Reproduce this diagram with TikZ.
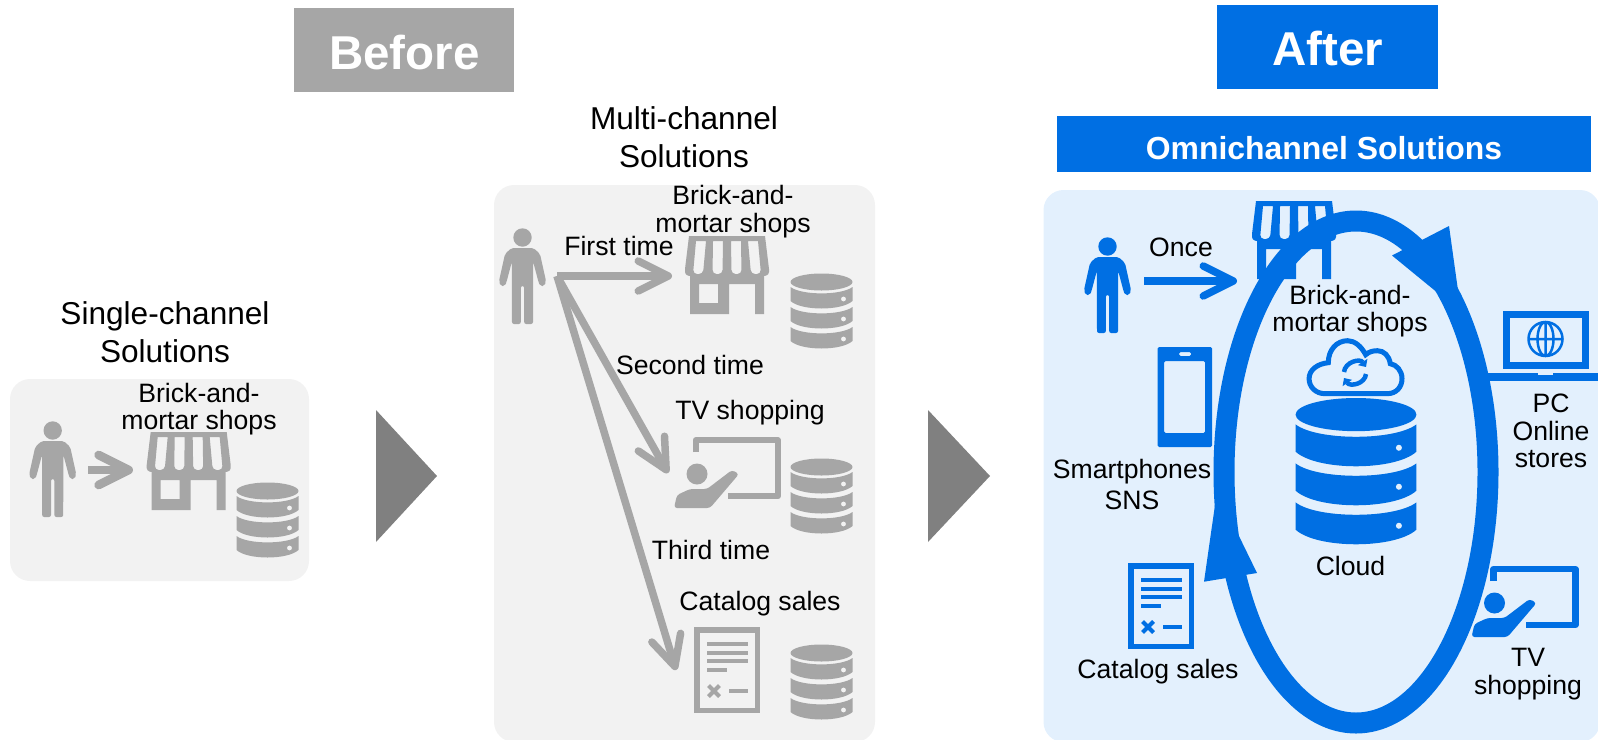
\documentclass[tikz,border=0pt]{standalone}
\usepackage{fontspec}
\setmainfont{Liberation Sans}
\usetikzlibrary{arrows.meta}
\definecolor{icongray}{HTML}{A6A6A6}
\definecolor{panelgray}{HTML}{F2F2F2}
\definecolor{markgray}{HTML}{808080}
\definecolor{iconblue}{HTML}{006FE3}
\definecolor{panelblue}{HTML}{E3F0FD}
\tikzset{
	lbl/.style={align=center, inner sep=0pt, font=\fontsize{26.6}{27.5}\selectfont},
	lblbig/.style={align=center, inner sep=0pt, font=\fontsize{31.6}{38}\selectfont},
	tagbox/.style={inner sep=0pt, text=white, font=\fontsize{47.5}{50}\selectfont\bfseries},
	flowarrow/.style={-{Straight Barb[length=30pt, width=30pt, round]}},
	pics/personicon/.style={code={
		\fill (0, 9.5) circle (9.2);
		\fill[rounded corners=2pt] (-11, 20) -- (11, 20) -- (17.5, 26) -- (23.5, 53) -- (22, 58) -- (17.5, 58) -- (16, 54) -- (10.7, 34)
			-- (10.5, 96) -- (1.7, 96) -- (1.7, 58) -- (-1.7, 58) -- (-1.7, 96) -- (-10.5, 96) -- (-10.7, 34)
			-- (-16, 54) -- (-17.5, 58) -- (-22, 58) -- (-23.5, 53) -- (-17.5, 26) -- cycle;
	}},
	pics/shopicon/.style={code={
		\fill[even odd rule] (-38, 0) -- (38, 0) -- (42, 33) [rounded corners=3pt] -- (42, 39) [sharp corners] -- (37, 40)
			-- (37, 78) -- (28, 78) -- (28, 48) -- (2, 48) -- (2, 78) -- (-37, 78) -- (-37, 40)
			[rounded corners=3pt] -- (-42, 39) [sharp corners] -- (-42, 33) -- cycle
			(-28, 48) rectangle (-9, 67)
			[rounded corners=4pt]
			(-31, 5) [sharp corners] -- (-21, 5) [rounded corners=4pt] -- (-24, 38) -- (-34, 38) [sharp corners] -- cycle
			(-14, 5) -- (-4, 5) [rounded corners=4pt] -- (-4.5, 38) -- (-14.5, 38) [sharp corners] -- cycle
			(4, 5) -- (14, 5) [rounded corners=4pt] -- (14.5, 38) -- (4.5, 38) [sharp corners] -- cycle
			(21, 5) -- (31, 5) [rounded corners=4pt] -- (34, 38) -- (24, 38) [sharp corners] -- cycle;
	}},
	pics/dbstack/.style 2 args={code={
		\fill (0, 8) ellipse [x radius=31, y radius=8.5];
		\foreach \a in {13, 33, 53} {
			\fill (-31, \a) .. controls (-20, \a + 8.5) and (20, \a + 8.5) .. (31, \a)
				-- (31, \a + 14) .. controls (20, \a + 24) and (-20, \a + 24) .. (-31, \a + 14) -- cycle;
			\fill[#1] (22, \a + 12) circle (#2);
		}
	}},
	pics/tvicon/.style={code={
		\draw[line width=6.5pt, line join=round] (22, 15) -- (22, 3.2) -- (103.8, 3.2) -- (103.8, 59) -- (54, 59);
		\fill (23, 37) circle (10.5);
		\fill[rounded corners=3pt] (0, 71) -- (3, 58) -- (16, 52) -- (33, 52) -- (58, 33) -- (65, 37) -- (36, 71) -- cycle;
	}},
	pics/catalogicon/.style={code={
		\draw[line width=5.5pt] (2.75, 2.75) rectangle (63.25, 83.25);
		\foreach \y in {17, 25.5, 34} {
			\fill (13, \y - 2) rectangle (54, \y + 2);
		}
		\fill (13, 41) rectangle (33, 45);
		\draw[line width=4pt] (14.5, 58.5) -- (25.5, 69.5) (14.5, 69.5) -- (25.5, 58.5);
		\fill (35, 62) rectangle (54, 66);
	}}
}
\begin{document}
\begin{tikzpicture}[x=1pt, y=-1pt]
	\useasboundingbox (0, 0) rectangle (1598, 739);
	\fill[panelgray, rounded corners=20pt] (10, 379) rectangle (309, 581);
	\fill[panelgray, rounded corners=20pt] (494, 185) rectangle (875, 742);
	\fill[panelblue, rounded corners=20pt] (1043.5, 190) rectangle (1600, 742);
	\fill[markgray] (376, 410) -- (437, 476) -- (376, 542) -- cycle;
	\fill[markgray] (928, 410) -- (990, 476) -- (928, 542) -- cycle;
	\node[fill=icongray, minimum width=220.5pt, minimum height=84pt] (before) at (404, 50) {};
	\node[tagbox] (beforeLbl) at (404.5, 53) {Before};
	\node[fill=iconblue, minimum width=221pt, minimum height=84pt] (after) at (1327.5, 47) {};
	\node[tagbox] (afterLbl) at (1327.5, 49) {After};
	\node[fill=iconblue, text=white, inner sep=0pt, minimum width=534pt, minimum height=56pt] (omni) at (1324, 144) {};
	\node[text=white, inner sep=0pt, font=\fontsize{31.9}{34}\selectfont\bfseries] (omniLbl) at (1324, 148) {Omnichannel Solutions};

	\node[lblbig] (singleTitle) at (165, 332) {Single-channel\\Solutions};
	\pic[color=icongray] at (52.7, 421) {personicon};
	\pic[color=icongray] at (188.7, 432) {shopicon};
	\pic[color=icongray] at (267.5, 483) {dbstack={panelgray}{2.4}};
	\coordinate (singleFrom) at (88, 470);
	\coordinate (singleTo) at (133, 470);
	\draw[flowarrow, icongray, line width=8.7pt] (singleFrom) -- (singleTo);
	\node[lbl] (singleShop) at (199, 409) {Brick-and-\\mortar shops};

	\node[lblbig] (multiTitle) at (684, 137) {Multi-channel\\Solutions};
	\pic[color=icongray] at (522.5, 228) {personicon};
	\pic[color=icongray] at (727, 236) {shopicon};
	\pic[color=icongray] at (821.5, 274) {dbstack={panelgray}{2.4}};
	\pic[color=icongray] at (674, 437) {tvicon};
	\pic[color=icongray] at (821.5, 459) {dbstack={panelgray}{2.4}};
	\pic[color=icongray] at (694, 627) {catalogicon};
	\pic[color=icongray] at (821.5, 645) {dbstack={panelgray}{2.4}};
	\coordinate (multiFrom) at (557, 276);
	\coordinate (multiShop) at (672, 276);
	\coordinate (multiTv) at (668, 473);
	\coordinate (multiCat) at (676, 670);
	\draw[flowarrow, icongray, line width=7.5pt] (multiFrom) -- (multiShop);
	\draw[flowarrow, icongray, line width=7.5pt] (multiFrom) -- (multiTv);
	\draw[flowarrow, icongray, line width=7.5pt] (multiFrom) -- (multiCat);
	\node[lbl] (multiShopLbl) at (733, 211.5) {Brick-and-\\mortar shops};
	\node[lbl] (firstLbl) at (619, 246) {First time};
	\node[lbl] (secondLbl) at (690, 365) {Second time};
	\node[lbl] (tvLbl) at (750, 413) {TV shopping};
	\node[lbl] (thirdLbl) at (711, 550) {Third time};
	\node[lbl] (catLbl) at (760, 604) {Catalog sales};

	\pic[color=iconblue] at (1107.5, 237) {personicon};
	\pic[color=iconblue] at (1294, 201) {shopicon};
	\coordinate (afterFrom) at (1144, 281);
	\coordinate (afterTo) at (1237, 281);
	\draw[flowarrow, iconblue, line width=7.5pt] (afterFrom) -- (afterTo);
	\draw[iconblue, line width=21pt] (1356, 472) ellipse [x radius=132, y radius=251];
	\fill[iconblue] (1449, 226) -- (1392, 255.5) -- (1461, 312) -- cycle;
	\fill[iconblue] (1204, 581.7) -- (1257, 573) -- (1217, 491) -- cycle;
	\fill[iconblue, rounded corners=1.5pt, even odd rule] (1157.5, 347) rectangle (1212, 447)
		(1164, 361) rectangle (1205, 433) (1179, 352) rectangle (1191, 356);
	\draw[iconblue, line width=7pt] (1506.5, 314.5) rectangle (1585.5, 365);
	\fill[iconblue] (1486.5, 373) rectangle (1598, 381);
	\fill[panelblue] (1538, 373) rectangle (1553, 375);
	\draw[iconblue, line width=2.5pt] (1545.5, 339) circle (17) ellipse [x radius=8, y radius=17]
		(1528.5, 339) -- (1562.5, 339) (1545.5, 322) -- (1545.5, 356);
	\draw[iconblue, line width=5pt, xshift=1355pt, yshift=-366.7pt, xscale=1.068] (-28, 27) -- (30, 27)
		.. controls (39, 27) and (44, 20) .. (44, 12) .. controls (44, 4) and (39, -2) .. (33, -3)
		.. controls (32, -11) and (27, -16) .. (21, -16) .. controls (17, -16) and (13, -15) .. (10, -12)
		.. controls (6, -20) and (0, -26) .. (-7, -26) .. controls (-17, -26) and (-25, -17) .. (-25, -4)
		.. controls (-35, -3) and (-43, 3) .. (-43, 12) .. controls (-43, 20) and (-37, 27) .. (-28, 27) -- cycle;
	\draw[iconblue, line width=4.5pt, -{Triangle[length=6pt, width=11pt]}] (1344, 372) .. controls (1345, 362) and (1360, 358) .. (1366, 367);
	\draw[iconblue, line width=4.5pt, -{Triangle[length=6pt, width=11pt]}] (1366, 374) .. controls (1365, 384) and (1350, 387) .. (1344, 378);
	\pic[color=iconblue, scale=1.95] at (1356, 399) {dbstack={panelblue}{1.55}};
	\pic[color=iconblue] at (1471.5, 566) {tvicon};
	\pic[color=iconblue] at (1128, 563) {catalogicon};
	\node[lbl] (onceLbl) at (1181, 247) {Once};
	\node[lbl] (afterShop) at (1350, 311) {Brick-and-\\mortar shops};
	\node[lbl, font=\fontsize{26.6}{31}\selectfont] (phoneLbl) at (1132, 484) {Smartphones\\SNS};
	\node[lbl] (pcLbl) at (1551, 431) {PC\\Online\\stores};
	\node[lbl] (cloudLbl) at (1350.5, 566) {Cloud};
	\node[lbl] (afterCat) at (1158, 672) {Catalog sales};
	\node[lbl] (afterTv) at (1528, 674) {TV\\shopping};
\end{tikzpicture}
\end{document}
